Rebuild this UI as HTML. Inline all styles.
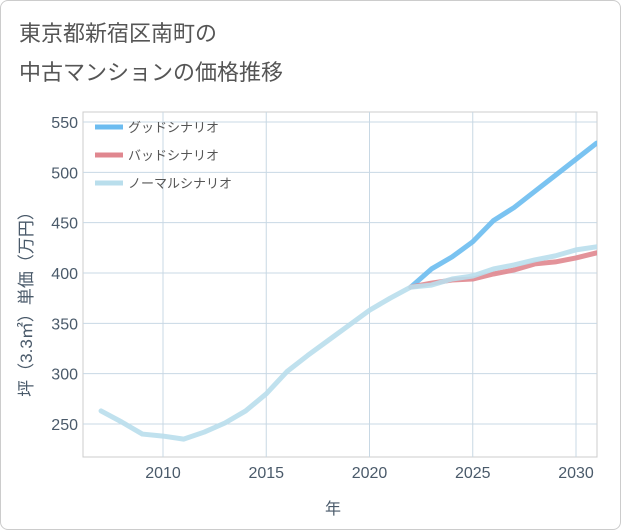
<!DOCTYPE html>
<html><head><meta charset="utf-8"><style>
body{margin:0;background:#fff;}
#card{position:absolute;left:0;top:0;width:619px;height:528px;border:1px solid #ccc;border-radius:8px;background:#fff;}
.t{position:absolute;left:18px;font-family:"Liberation Sans","Noto Sans CJK JP",sans-serif;font-size:22px;color:#555;}
svg text{font-family:"Liberation Sans","Noto Sans CJK JP",sans-serif;}
</style></head><body>
<div id="card">
<div class="t" style="top:15px">東京都新宿区南町の</div>
<div class="t" style="top:54px">中古マンションの価格推移</div>
</div>
<svg id="chart" width="621" height="530" style="position:absolute;left:0;top:0"><defs><clipPath id="cp"><rect x="83" y="112" width="514" height="345"/></clipPath></defs></svg>
<script>
const years=[2007,2008,2009,2010,2011,2012,2013,2014,2015,2016,2017,2018,2019,2020,2021,2022,2023,2024,2025,2026,2027,2028,2029,2030,2031];
const normal=[263,252,240,238,235,242,251,263,280,302,318,333,348,363,375,386,388,394,397,404,408,413,417,423,426];
const goodYears=[2022,2023,2024,2025,2026,2027,2028,2029,2030,2031];
const good=[386,404,416,431,452,465,481,497,513,529];
const bad=[386,390,393,394,399,403,409,411,415,420];
const xTicks=[2010,2015,2020,2025,2030];
const yTicks=[250,300,350,400,450,500,550];
const L=83,R=597,T=112,B=457;
const x=v=>163+(v-2010)*20.65;
const y=v=>424-(v-250)*1.0067;
const svg=document.getElementById('chart');
const NS='http://www.w3.org/2000/svg';
function mk(t,a){const e=document.createElementNS(NS,t);for(const k in a)e.setAttribute(k,a[k]);svg.appendChild(e);return e;}
const bg=mk('rect',{x:L,y:T,width:R-L,height:B-T,fill:'#fff',stroke:'#ccc'});


xTicks.forEach(v=>{
 const g=mk('line',{x1:x(v),x2:x(v),y1:T,y2:B,stroke:'#c8d8e4'});
 
 
 const t=mk('text',{x:x(v),y:478,'text-anchor':'middle','font-size':16,fill:'#4a5a6a'});
 t.textContent=v;
 
 
});
yTicks.forEach(v=>{
 const g=mk('line',{x1:L,x2:R,y1:y(v),y2:y(v),stroke:'#c8d8e4'});
 
 
 const t=mk('text',{x:78,y:y(v)+6,'text-anchor':'end','font-size':16,fill:'#4a5a6a'});
 t.textContent=v;
 
 
});
function line(xs,ys,c,name){
 const p=mk('polyline',{points:xs.map((v,i)=>x(v)+','+y(ys[i])).join(' '),fill:'none',stroke:c,'stroke-width':5,'stroke-linejoin':'round','stroke-linecap':'round','clip-path':'url(#cp)',opacity:0.9});
 
 
}
line(goodYears,good,'#6cbcf0','good-scenario-line');
line(goodYears,bad,'#e0878f','bad-scenario-line');
line(years,normal,'#b9deec','normal-scenario-line');
const leg=[['グッドシナリオ','#6cbcf0'],['バッドシナリオ','#e0878f'],['ノーマルシナリオ','#b9deec']];
leg.forEach((l,i)=>{
 const yy=127+i*28;
 const s=mk('line',{x1:95,x2:123,y1:yy,y2:yy,stroke:l[1],'stroke-width':5});
 
 
 const t=mk('text',{x:128,y:yy+5,'font-size':13,fill:'#555'});
 t.textContent=l[0];
 
 
});
const xt=mk('text',{x:333,y:514,'text-anchor':'middle','font-size':16,fill:'#4a5a6a'});
xt.textContent='年';


const yt=mk('text',{x:0,y:0,'text-anchor':'middle','font-size':17,fill:'#4a5a6a',transform:'translate(32,300) rotate(-90)'});
yt.textContent='坪（3.3㎡）単価（万円）';


</script>
</body></html>
